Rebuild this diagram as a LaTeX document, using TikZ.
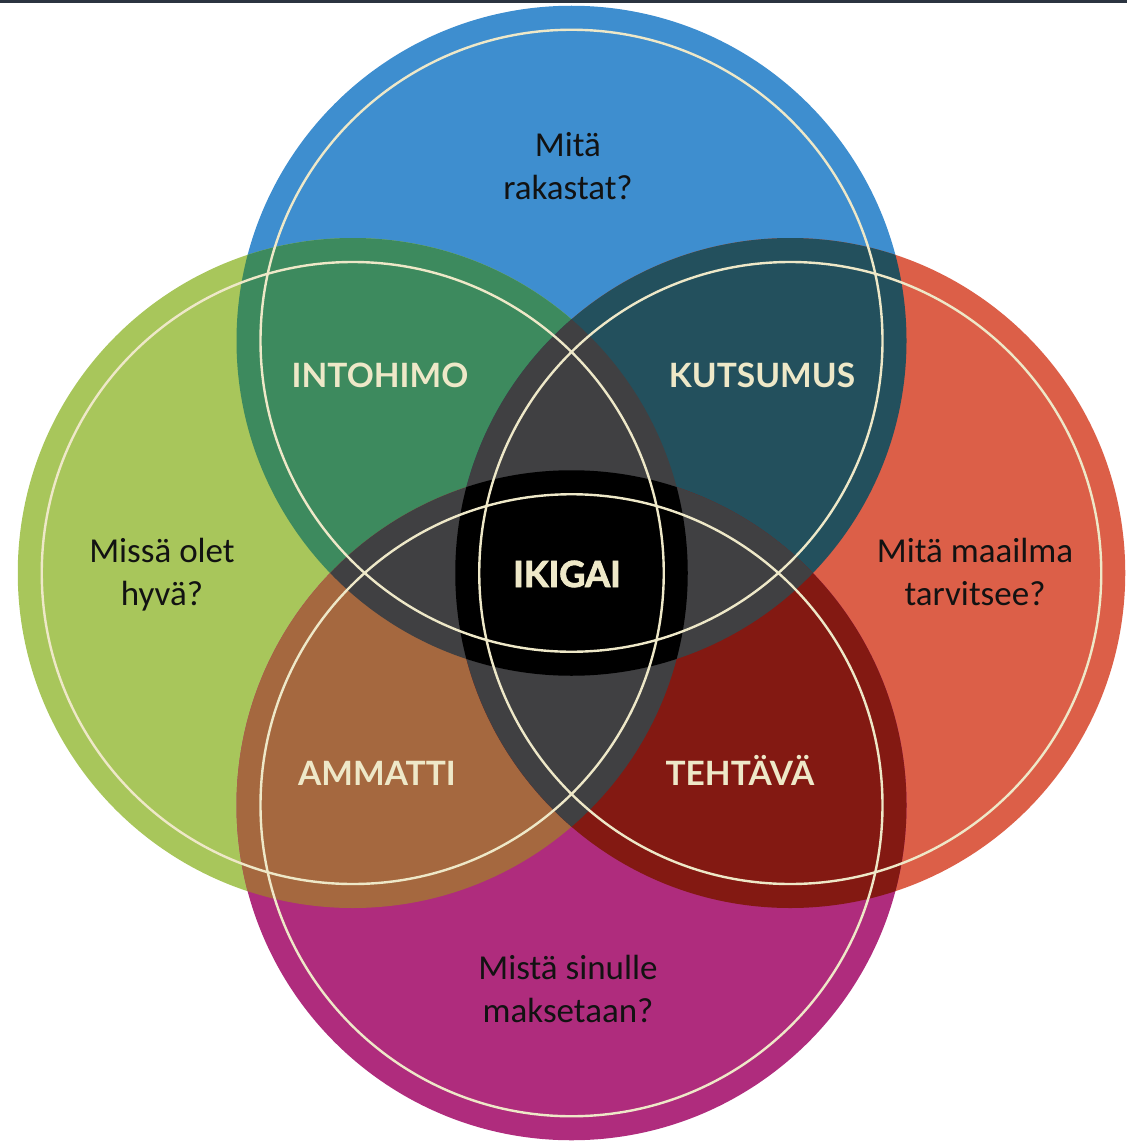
\documentclass[tikz,border=0pt]{standalone}
\usepackage{fontspec}
\setmainfont{Carlito}
\newfontfamily\labfont{Lato}
\newfontfamily\ikifont{Lato}[BoldFeatures={FakeBold=2.5}]
\definecolor{cblue}{HTML}{3E8ECF}
\definecolor{cgreen}{HTML}{A8C65B}
\definecolor{cred}{HTML}{DC5F48}
\definecolor{cmag}{HTML}{AF2C7D}
\definecolor{cbg}{HTML}{3D8A5E}
\definecolor{cbr}{HTML}{23505D}
\definecolor{cgm}{HTML}{A5683F}
\definecolor{crm}{HTML}{831912}
\definecolor{cgray}{HTML}{404042}
\definecolor{ccream}{HTML}{EEE8C8}
\definecolor{ctop}{HTML}{2B3440}
\begin{document}
\begin{tikzpicture}[x=1pt,y=-1pt,
  question/.style={anchor=base,align=center,text=black!93,font=\fontsize{35}{42.5}\selectfont},
  areatext/.style={anchor=base,text=ccream,font=\labfont\bfseries\fontsize{33.5}{36}\selectfont},
  ikitext/.style={anchor=base,text=ccream,font=\ikifont\bfseries\fontsize{36}{40}\selectfont},
  ring/.style={draw=ccream,line width=2.4pt}]
\useasboundingbox (0,0) rectangle (1127,1142);
\def\R{335}
\def\r{311}
\coordinate (cb) at (571.5,340.75);
\coordinate (cm) at (571.5,805.25);
\coordinate (cg) at (352.75,573);
\coordinate (cr) at (790.25,573);
% base circles
\fill[cblue] (cb) circle[radius=\R];
\fill[cgreen] (cg) circle[radius=\R];
\fill[cred] (cr) circle[radius=\R];
\fill[cmag] (cm) circle[radius=\R];
% pairwise overlaps
\begin{scope}\clip (cb) circle[radius=\R]; \fill[cbg] (cg) circle[radius=\R]; \fill[cbr] (cr) circle[radius=\R];\end{scope}
\begin{scope}\clip (cm) circle[radius=\R]; \fill[cgm] (cg) circle[radius=\R]; \fill[crm] (cr) circle[radius=\R];\end{scope}
% triple overlaps
\begin{scope}\clip (cb) circle[radius=\R]; \fill[cgray] (cm) circle[radius=\R];\end{scope}
\begin{scope}\clip (cg) circle[radius=\R]; \fill[cgray] (cr) circle[radius=\R];\end{scope}
% all four
\begin{scope}\clip (cb) circle[radius=\R]; \clip (cm) circle[radius=\R]; \clip (cg) circle[radius=\R]; \fill[black] (cr) circle[radius=\R];\end{scope}
% inner rings
\draw[ring] (cb) circle[radius=\r];
\draw[ring] (cg) circle[radius=\r];
\draw[ring] (cr) circle[radius=\r];
\draw[ring] (cm) circle[radius=\r];
% top rule
\draw[ctop,line width=3pt] (0,1.5) -- (1127,1.5);
% texts
\node[question] (qtop) at (568,199) {Mitä\\rakastat?};
\node[question] (qleft) at (162,605) {Missä olet\\hyvä?};
\node[question] (qright) at (975,605) {Mitä maailma\\tarvitsee?};
\node[question] (qbottom) at (568,1022) {Mistä sinulle\\maksetaan?};
\node[areatext] (intohimo) at (380,387) {INTOHIMO};
\node[areatext] (kutsumus) at (762,387) {KUTSUMUS};
\node[areatext] (ammatti) at (377,785) {AMMATTI};
\node[areatext] (tehtava) at (740,785) {TEHTÄVÄ};
\node[ikitext] (ikigai) at (567,587) {IKIGAI};
\end{tikzpicture}
\end{document}
